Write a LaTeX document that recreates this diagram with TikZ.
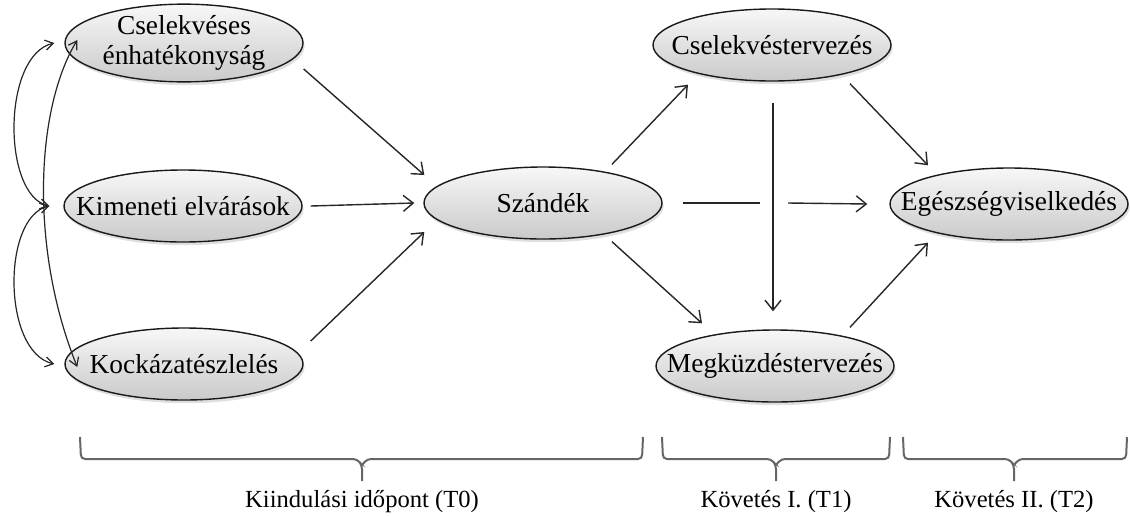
\documentclass[tikz,border=0pt]{standalone}
\usepackage{fontspec}
\setmainfont{Liberation Serif}
\usetikzlibrary{shapes.geometric,arrows.meta,calc,shadows}

% curly bracket under a period of measurement: left end, tip, right end
\newcommand\periodbrace[3]{%
  \draw[bracket] (#1,437) -- (#1+1,459) -- (#2-5,459) -- (#2,465) -- (#2,481);
  \draw[bracket] (#2,465) -- (#2+5,459) -- (#3-1,459) -- (#3,437);
}
% zero-width line of text, so the ellipse keeps its fixed size
\newcommand\fixline[1]{\makebox[0pt][c]{#1}}

\begin{document}
\begin{tikzpicture}[x=0.5pt,y=-0.5pt,
  var/.style={ellipse, draw=black!90, line width=0.7pt,
    minimum width=119pt, minimum height=36pt, inner sep=0pt,
    top color=gray!6, bottom color=gray!42,
    drop shadow={opacity=0.25, shadow xshift=0.8pt, shadow yshift=-1.6pt},
    font=\fontsize{13.7}{15}\selectfont, align=center},
  link/.style={draw=black!85, line width=0.7pt,
    -{Straight Barb[length=5pt,width=8pt]}},
  plain/.style={draw=black!85, line width=0.7pt},
  both/.style={draw=black!85, line width=0.6pt,
    {Straight Barb[length=4pt,width=5pt]}-{Straight Barb[length=4pt,width=5pt]}},
  bracket/.style={draw=black!60, line width=1pt, rounded corners=2pt},
  period/.style={font=\fontsize{12.3}{14}\selectfont, anchor=base}
]
\useasboundingbox (0,0) rectangle (1130,515);

% predictors measured at baseline
\node[var] (A) at (184,43)  {\fixline{Cselekvéses}\\\fixline{énhatékonyság}};
\node[var] (B) at (183,206) {\fixline{Kimeneti elvárások}};
\node[var] (C) at (184,364) {\fixline{Kockázatészlelés}};
% intention and planning
\node[var] (S) at (543,203) {\fixline{Szándék}};
\node[var] (D) at (772,45)  {\fixline{Cselekvéstervezés}};
\node[var] (M) at (775,366) {\fixline{Megküzdéstervezés}};
\node[var] (E) at (1009,204) {\fixline{Egészségviselkedés}};

% correlations among the predictors
\coordinate (aL) at ($(A.west)+(-10,0)$);
\coordinate (aI) at ($(A.west)+(13,-3)$);
\coordinate (bL) at ($(B.west)+(-14,0)$);
\coordinate (cL) at ($(C.west)+(-10,0)$);
\coordinate (cI) at ($(C.west)+(13,3)$);
\draw[both] (bL) .. controls (2,195) and (2,55) .. (aL);
\draw[both] (bL) .. controls (2,217) and (2,352) .. (cL);
\draw[both] (cI) .. controls (30,250) and (35,110) .. (aI);

% predictors to intention
\draw[link] ($(A.east)+(0,26)$) -- ($(S.west)+(1,-28)$);
\draw[link] ($(B.east)+(8,0)$) -- ($(S.west)+(-9,0)$);
\draw[link] ($(C.east)+(7,-23)$) -- ($(S.west)+(1,29)$);

% intention to planning
\draw[link] ($(S.north)+(69,-2)$) -- ($(D.south)+(-84,3)$);
\draw[link] ($(S.south)+(69,2)$) -- ($(M.north)+(-73,-6)$);

% action planning to coping planning, crossing the direct path
\coordinate (v1) at ($(D.south)+(1,21)$);
\draw[link] (v1) -- ($(M.north)+(-2,-18)$);
\draw[plain] ($(S.east)+(20,0)$) -- ($(v1 |- S.east)+(-13,0)$);
\draw[link] ($(v1 |- S.east)+(15,0)$) -- ($(E.west)+(-22,0)$);

% planning to behaviour
\draw[link] ($(D.south)+(78,2)$) -- ($(E.north)+(-81,-2)$);
\draw[link] ($(M.north)+(75,-2)$) -- ($(E.south)+(-81,2)$);

% measurement periods
\periodbrace{80}{362}{643}
\periodbrace{662}{776}{890}
\periodbrace{903}{1014}{1127}
\node[period] (t0) at (362,507) {Kiindulási időpont (T0)};
\node[period] (t1) at (776,507) {Követés I. (T1)};
\node[period] (t2) at (1014,507) {Követés II. (T2)};
\end{tikzpicture}
\end{document}
